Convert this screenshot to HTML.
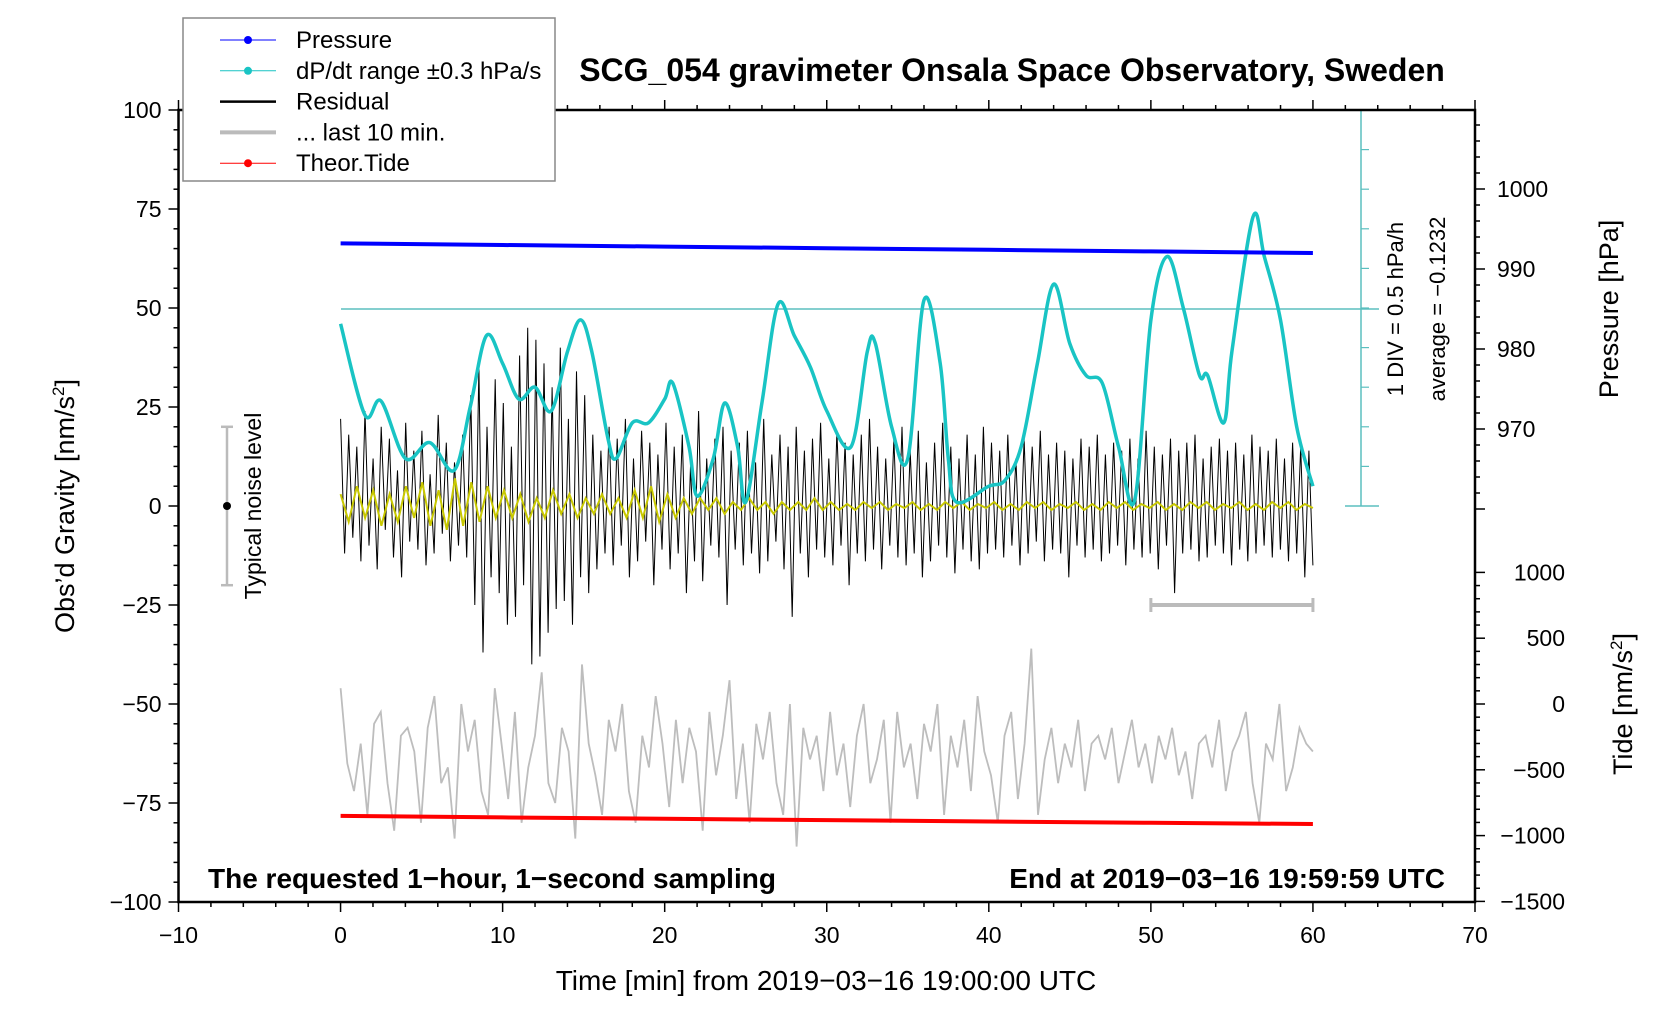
<!DOCTYPE html>
<html><head><meta charset="utf-8"><style>
body{margin:0;background:#fff;}
svg{display:block;font-family:"Liberation Sans",Arial,sans-serif;}
</style></head><body>
<svg id="chart" width="1676" height="1020" viewBox="0 0 1676 1020" xmlns="http://www.w3.org/2000/svg">
<rect width="1676" height="1020" fill="#fff"/>
<g id="marks"></g>
<g id="axes"></g>
</svg>
<script>
const xTicks=[-10,0,10,20,30,40,50,60,70];
const yTicks=[100,75,50,25,0,-25,-50,-75,-100];
const pTicks=[1000,990,980,970];
const tideTicks=[1000,500,0,-500,-1000,-1500];
const cyanT=[0,1.5,2.5,4,5.5,7,8,9,10,11,12,13,14,14.8,15.5,16.5,17,18,19,20,20.5,21.5,22,23,23.7,24.5,25,26,27,28,29,30,31.5,32.5,33,34,35,36,37,37.5,38,40,41,42,43,44,45,46,47,48,49,50,51,52,53,53.5,54.5,55,56.3,57,58,59,60];
const cyanV=[4.6,2.3,2.65,1.2,1.6,0.9,2.5,4.3,3.6,2.7,3.0,2.4,3.9,4.7,3.9,1.7,1.2,2.1,2.1,2.7,3.1,1.5,0.25,1.2,2.6,1.5,0.1,2.6,5.1,4.3,3.5,2.4,1.5,3.9,4.1,2.0,1.2,5.2,3.6,1.2,0.1,0.5,0.65,1.5,3.6,5.6,4.1,3.3,3.1,1.5,0.15,4.7,6.3,5.0,3.3,3.3,2.1,3.9,7.3,6.3,4.7,2.0,0.5];
const pressT=[0,10,20,30,40,50,60];
const pressV=[993.2,993.0,992.8,992.6,992.4,992.2,992.0];
const tideT=[0,10,20,30,40,50,60];
const tideV=[-850,-862,-872,-882,-893,-903,-912];
const residual=[22,-12,18,-8,15,-14,24,-10,12,-16,20,-6,17,-13,9,-18,21,-9,14,-11,19,-15,8,-12,23,-7,16,-14,11,-10,18,-13,
28,-25,35,-37,20,-18,32,-22,26,-30,15,-28,38,-20,45,-40,42,-38,36,-32,30,-26,40,-24,22,-30,34,-18,28,-22,18,-16,
14,-12,20,-15,17,-10,22,-18,12,-14,19,-9,16,-20,13,-11,21,-16,15,-12,18,-22,10,-14,24,-19,12,-10,17,-13,20,-25,14,-11,16,-15,19,-12,11,-17,22,-14,13,-9,18,-16,15,-28,20,-12,14,-18,17,-11,21,-13,12,-15,19,-10,16,-20,13,-12,18,-14,22,-11,15,-16,12,-10,17,-13,20,-15,14,-12,19,-18,11,-14,16,-10,21,-13,15,-17,12,-11,18,-14,13,-16,20,-12,
16,-11,14,-13,18,-10,12,-15,17,-12,15,-9,19,-14,13,-11,16,-12,14,-18,12,-10,17,-13,15,-11,18,-14,13,-12,16,-10,14,-15,17,-11,12,-13,19,-12,15,-16,13,-10,17,-22,14,-12,16,-11,18,-14,12,-13,15,-10,17,-12,14,-15,16,-11,13,-14,18,-12,15,-10,14,-13,17,-11,12,-14,16,-12,15,-18,14,-15];
const smoothed=[3,-4,5,-3,4,-5,3,-4,5,-3,6,-5,4,-6,7,-5,6,-4,5,-3,4,-3,3,-4,2,-3,4,-2,3,-3,2,-2,3,-2,2,-3,4,-3,5,-4,3,-3,2,-2,2,-1,2,-2,1,-1,2,-1,1,-2,1,-1,1,-1,2,-1,
1,-1,0.5,-1,1,-0.5,1,-1,0.5,-0.5,1,-1,0.5,-1,1,-0.5,1,-1,0.5,-0.5,1,-1,0.5,-1,1,-0.5,1,-1,0.5,-0.5,1,-1,0.5,-1,1,-0.5,1,-1,0.5,-0.5,1,-1,0.5,-1,1,-0.5,1,-1,0.5,-0.5,1,-1,0.5,-1,1,-0.5,1,-1,0.5,-0.5];
const last10=[-46,-65,-72,-60,-78,-55,-52,-70,-82,-58,-56,-62,-80,-56,-48,-70,-66,-84,-50,-62,-54,-72,-78,-46,-60,-74,-52,-80,-66,-58,-42,-70,-75,-56,-62,-84,-40,-60,-68,-78,-54,-62,-50,-72,-80,-58,-66,-48,-60,-76,-54,-70,-56,-62,-82,-52,-68,-58,-44,-74,-60,-80,-55,-64,-52,-70,-78,-50,-86,-56,-64,-58,-72,-52,-68,-60,-76,-58,-50,-70,-64,-54,-80,-52,-66,-60,-74,-55,-62,-50,-78,-58,-66,-54,-72,-48,-62,-68,-80,-58,-52,-74,-60,-36,-78,-64,-56,-70,-60,-66,-54,-72,-60,-58,-64,-56,-70,-62,-54,-66,-60,-70,-58,-64,-56,-68,-62,-74,-60,-58,-66,-54,-72,-62,-58,-52,-70,-80,-60,-64,-50,-72,-66,-56,-60,-62];

const L=178.5,R=1475,T=110,B=902;
const X=t=>L+(t+10)*(R-L)/80;
const Y=g=>T+(100-g)*(B-T)/200;
const YP=p=>189+(1000-p)*8.0;
const YT=v=>704-v*0.1316;
const YC=d=>506-d*39.6;
const NS='http://www.w3.org/2000/svg';
const marks=document.getElementById('marks'),axes=document.getElementById('axes');
function el(tag,attrs,parent,text){const e=document.createElementNS(NS,tag);for(const k in attrs)e.setAttribute(k,attrs[k]);if(text!==undefined)e.textContent=text;parent.appendChild(e);return e;}
function pathFrom(ts,vs,fy){return ts.map((t,i)=>(i?'L':'M')+X(t).toFixed(1)+','+fy(vs[i]).toFixed(1)).join('');}
function smoothPath(ts,vs,fy){
  const P=ts.map((t,i)=>[X(t),fy(vs[i])]);
  let d='M'+P[0][0].toFixed(1)+','+P[0][1].toFixed(1);
  for(let i=0;i<P.length-1;i++){
    const p0=P[Math.max(i-1,0)],p1=P[i],p2=P[i+1],p3=P[Math.min(i+2,P.length-1)];
    const c1=[p1[0]+(p2[0]-p0[0])/6,p1[1]+(p2[1]-p0[1])/6];
    const c2=[p2[0]-(p3[0]-p1[0])/6,p2[1]-(p3[1]-p1[1])/6];
    d+='C'+c1.map(v=>v.toFixed(1)).join(',')+' '+c2.map(v=>v.toFixed(1)).join(',')+' '+p2[0].toFixed(1)+','+p2[1].toFixed(1);
  }
  return d;
}
function idxT(arr){return arr.map((_,i)=>i*60/(arr.length-1));}

// cyan scale bar
let g=el('g',{},marks);

el('line',{x1:1361,y1:110,x2:1361,y2:506,stroke:'#5bbfbf','stroke-width':1.5},g);
el('line',{x1:341,y1:309,x2:1379,y2:309,stroke:'#5bbfbf','stroke-width':1.5},g);
el('line',{x1:1345,y1:506,x2:1379,y2:506,stroke:'#5bbfbf','stroke-width':1.5},g);
el('line',{x1:1345,y1:110,x2:1379,y2:110,stroke:'#5bbfbf','stroke-width':1.5},g);
for(let i=1;i<10;i++)el('line',{x1:1361,y1:110+i*39.6,x2:1369,y2:110+i*39.6,stroke:'#5bbfbf','stroke-width':1.2},g);
el('text',{transform:'translate(1403,309) rotate(-90)','text-anchor':'middle','font-size':22},g,'1 DIV = 0.5 hPa/h');
el('text',{transform:'translate(1445,309) rotate(-90)','text-anchor':'middle','font-size':22},g,'average = \u22120.1232');

// gray last-10 span bar
g=el('g',{},marks);

el('line',{x1:X(50),y1:Y(-25),x2:X(60),y2:Y(-25),stroke:'#bbb','stroke-width':4},g);
el('line',{x1:X(50),y1:Y(-25)-7,x2:X(50),y2:Y(-25)+7,stroke:'#bbb','stroke-width':3},g);
el('line',{x1:X(60),y1:Y(-25)-7,x2:X(60),y2:Y(-25)+7,stroke:'#bbb','stroke-width':3},g);

// series
let p;
p=el('path',{d:pathFrom(idxT(last10),last10,Y),fill:'none',stroke:'#bdbdbd','stroke-width':1.8},marks);

p=el('path',{d:pathFrom(idxT(residual),residual,Y),fill:'none',stroke:'#000','stroke-width':1},marks);

p=el('path',{d:pathFrom(idxT(smoothed),smoothed,Y),fill:'none',stroke:'#c8c800','stroke-width':2},marks);

p=el('path',{d:smoothPath(cyanT,cyanV,YC),fill:'none',stroke:'#19c4c4','stroke-width':3.5,'stroke-linejoin':'round'},marks);

p=el('path',{d:pathFrom(pressT,pressV,YP),fill:'none',stroke:'#0000ff','stroke-width':4},marks);

p=el('path',{d:pathFrom(tideT,tideV,YT),fill:'none',stroke:'#ff0000','stroke-width':4},marks);


// noise level
g=el('g',{},marks);

el('line',{x1:227,y1:Y(20),x2:227,y2:Y(-20),stroke:'#bbb','stroke-width':2.5},g);
el('line',{x1:221,y1:Y(20),x2:233,y2:Y(20),stroke:'#bbb','stroke-width':2.5},g);
el('line',{x1:221,y1:Y(-20),x2:233,y2:Y(-20),stroke:'#bbb','stroke-width':2.5},g);
el('circle',{cx:227,cy:Y(0),r:4,fill:'#000'},g);
el('text',{transform:`translate(261,${Y(0)}) rotate(-90)`,'text-anchor':'middle','font-size':23},g,'Typical noise level');

// frame
let fr=el('rect',{x:L,y:T,width:R-L,height:B-T,fill:'none',stroke:'#000','stroke-width':2.5},axes);

// x ticks
g=el('g',{},axes);
for(let t=-10;t<=70;t+=2){const big=t%10===0;el('line',{x1:X(t),y1:B,x2:X(t),y2:B+(big?10:5),stroke:'#000','stroke-width':1.5},g);el('line',{x1:X(t),y1:T,x2:X(t),y2:T-(big?10:5),stroke:'#000','stroke-width':1.5},g);}
xTicks.forEach(t=>el('text',{x:X(t),y:B+41,'text-anchor':'middle','font-size':23},g,t<0?'\u2212'+(-t):String(t)));
el('text',{x:826,y:990,'text-anchor':'middle','font-size':28},g,'Time [min] from 2019\u221203\u221216 19:00:00 UTC');
// y ticks
g=el('g',{},axes);
for(let v=-100;v<=100;v+=5){const big=v%25===0;el('line',{x1:L,y1:Y(v),x2:L-(big?10:5),y2:Y(v),stroke:'#000','stroke-width':1.5},g);}
yTicks.forEach(v=>el('text',{x:L-17,y:Y(v)+8,'text-anchor':'end','font-size':23},g,v<0?'\u2212'+(-v):String(v)));
el('text',{transform:`translate(74,${Y(0)}) rotate(-90)`,'text-anchor':'middle','font-size':27},g).innerHTML='Obs\u2019d Gravity [nm/s<tspan dy="-10" font-size="17">2</tspan><tspan dy="10">]</tspan>';
// right pressure axis
g=el('g',{},axes);
for(let v=1010;v>=960;v-=2){const y=YP(v);if(y<T||y>560)continue;el('line',{x1:R,y1:y,x2:R+(v%10===0?10:5),y2:y,stroke:'#000','stroke-width':1.5},g);}
pTicks.forEach(v=>el('text',{x:R+22,y:YP(v)+8,'font-size':23},g,String(v)));
el('text',{transform:`translate(1618,${YP(985)}) rotate(-90)`,'text-anchor':'middle','font-size':27},g,'Pressure [hPa]');
// right tide axis
g=el('g',{},axes);
for(let v=1000;v>=-1500;v-=100){el('line',{x1:R,y1:YT(v),x2:R+(v%500===0?10:5),y2:YT(v),stroke:'#000','stroke-width':1.5},g);}
tideTicks.forEach(v=>el('text',{x:R+90,y:YT(v)+8,'text-anchor':'end','font-size':23},g,v<0?'\u2212'+(-v):String(v)));
el('text',{transform:`translate(1632,${YT(0)}) rotate(-90)`,'text-anchor':'middle','font-size':27},g).innerHTML='Tide [nm/s<tspan dy="-10" font-size="17">2</tspan><tspan dy="10">]</tspan>';
// title & notes
let tt=el('text',{x:1012,y:81,'text-anchor':'middle','font-size':32,'font-weight':'bold'},axes,'SCG_054 gravimeter Onsala Space Observatory, Sweden');

tt=el('text',{x:208,y:888,'font-size':28,'font-weight':'bold'},axes,'The requested 1\u2212hour, 1\u2212second sampling');

tt=el('text',{x:1445,y:888,'text-anchor':'end','font-size':28,'font-weight':'bold'},axes,'End at 2019\u221203\u221216 19:59:59 UTC');

// legend
g=el('g',{},axes);
el('rect',{x:183,y:18,width:372,height:163,fill:'#fff',stroke:'#888','stroke-width':1.5},g);
const leg=[['Pressure','#0000ff',1,true],['dP/dt range \u00b10.3 hPa/s','#19c4c4',1,true],['Residual','#000',2.5,false],['... last 10 min.','#bbb',4,false],['Theor.Tide','#ff0000',1,true]];
leg.forEach((e,i)=>{const y=40+i*30.8;const le=el('g',{},g);
el('line',{x1:220,y1:y,x2:276,y2:y,stroke:e[1],'stroke-width':e[2]},le);
if(e[3])el('circle',{cx:248,cy:y,r:4,fill:e[1]},le);
el('text',{x:296,y:y+8,'font-size':24},le,e[0]);});
</script>
</body></html>
